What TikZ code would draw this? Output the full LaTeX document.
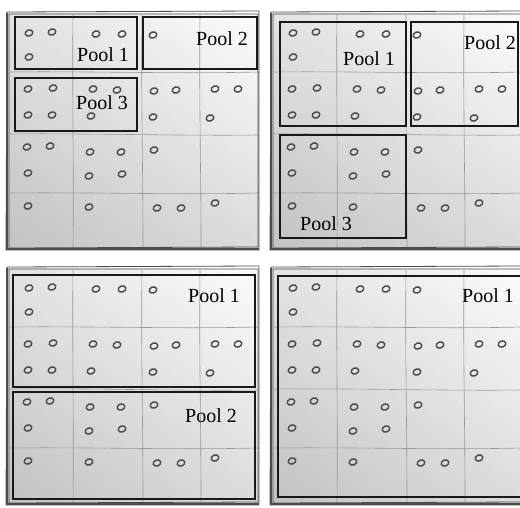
\documentclass[tikz,border=0pt]{standalone}
\usepackage{fontspec}
\setmainfont{Liberation Serif}
\usetikzlibrary{calc}
\tikzset{
  framestroke/.style={draw=black!70, line width=0.8pt},
  gridline/.style={draw=black!40, line width=0.6pt},
  dot/.style={draw=black!70, line width=1.4pt},
  pool/.style={draw=black!90, line width=2.4pt},
  poollabel/.style={font=\fontsize{20}{22}\selectfont, inner sep=0pt, text=black},
}
\newcommand\sketchpanel[2]{%
  \begin{scope}[shift={(#1,#2)}]
    \shade[left color=black!20, right color=black!2] (8,13) rectangle (259,249);
    \shade[top color=white, bottom color=black!28, opacity=0.45] (8,13) rectangle (259,249);
    % grid
    \draw[gridline] (73,15) .. controls (72,90) and (74,170) .. (73,248);
    \draw[gridline] (142,15) .. controls (141,90) and (143,170) .. (143,248);
    \draw[gridline] (200,15) .. controls (199,90) and (201,170) .. (201,248);
    \draw[gridline] (10,72) .. controls (80,71) and (180,74) .. (258,72);
    \draw[gridline] (10,134) .. controls (80,133) and (180,136) .. (258,135);
    \draw[gridline] (10,193) .. controls (80,192) and (180,195) .. (258,193);
    % sketchy frame
    \draw[framestroke] (7,12) -- (259,11) -- (259,250) -- (6,250) -- cycle;
    \draw[framestroke] (9,14) -- (258,14) -- (258,247) -- (9,248) -- cycle;
    \draw[framestroke, line width=1.6pt] (6,249) -- (259,249);
    \draw[framestroke, line width=1.2pt] (7,13) -- (7,250);
    % dots
    \foreach \px/\py in {29/33,52/32,29/57,96/34,122/34,153/35,
      28/89,53/88,28/115,52/115,93/89,117/90,91/116,154/91,176/90,153/117,215/89,238/89,210/118,
      27/147,50/146,28/173,90/152,121/152,89/176,122/174,154/150,
      28/206,89/207,157/208,181/208,215/203}
      \draw[dot, rotate around={20:(\px,\py)}] (\px,\py) ellipse [x radius=3.9pt, y radius=3.0pt];
  \end{scope}}
\begin{document}
\begin{tikzpicture}[x=1pt,y=-1pt]
  \useasboundingbox (0,0) rectangle (520,507);
  \clip (0,0) rectangle (520,507);
  \sketchpanel{0}{0}
  \sketchpanel{264}{0}
  \sketchpanel{0}{255}
  \sketchpanel{264}{255}
  % panel 1
  \draw[pool] (15,17) rectangle (137,69);
  \draw[pool] (143,17) rectangle (257,69);
  \draw[pool] (15,78) rectangle (137,131);
  \node[poollabel] (p1a) at (103,55) {Pool 1};
  \node[poollabel] (p1b) at (222,39) {Pool 2};
  \node[poollabel] (p1c) at (102,103) {Pool 3};
  % panel 2
  \draw[pool] (280,22) rectangle (406,126);
  \draw[pool] (411,22) rectangle (518,126);
  \draw[pool] (280,135) rectangle (406,238);
  \node[poollabel] (p2a) at (369,59) {Pool 1};
  \node[poollabel] (p2b) at (490,43) {Pool 2};
  \node[poollabel] (p2c) at (326,224) {Pool 3};
  % panel 3
  \draw[pool] (13,275) rectangle (255,387);
  \draw[pool] (13,392) rectangle (255,499);
  \node[poollabel] (p3a) at (214,296) {Pool 1};
  \node[poollabel] (p3b) at (211,416) {Pool 2};
  % panel 4
  \draw[pool] (278,276) rectangle (522,497);
  \node[poollabel] (p4a) at (488,296) {Pool 1};
\end{tikzpicture}
\end{document}
